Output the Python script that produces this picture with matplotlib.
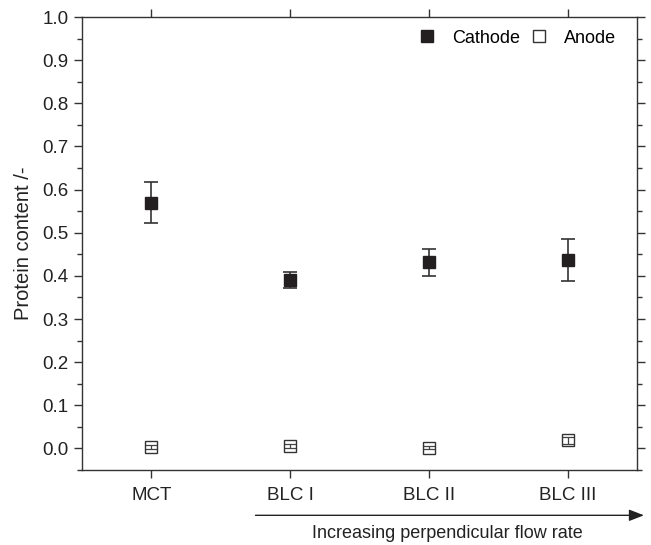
import matplotlib
matplotlib.use("Agg")
import matplotlib.pyplot as plt
from matplotlib.ticker import MultipleLocator

plt.rcParams['font.family'] = ['Liberation Sans', 'DejaVu Sans']

# protein content on electrode surfaces per module
modules = ['MCT', 'BLC I', 'BLC II', 'BLC III']
cathode = [0.570, 0.391, 0.431, 0.437]
cathode_err = [0.047, 0.019, 0.031, 0.048]
anode = [0.003, 0.005, 0.002, 0.019]
anode_err = [0.004, 0.005, 0.004, 0.008]

x = list(range(1, len(modules) + 1))
dark = '#231f20'

fig = plt.figure(figsize=(6.51, 5.45), dpi=100)
ax = fig.add_axes([0.126, 0.1376, 0.8525, 0.8312])

ax.errorbar(x, cathode, yerr=cathode_err, fmt='none', ecolor='#333333',
            elinewidth=1.2, capsize=5, capthick=1.2, zorder=2)
ax.errorbar(x, anode, yerr=anode_err, fmt='none', ecolor='#444444',
            elinewidth=0.9, capsize=4, capthick=0.9, zorder=2)
ax.plot(x, cathode, 's', ms=8.5, mfc=dark, mec=dark, ls='none',
        label='Cathode', zorder=3)
ax.plot(x, anode, 's', ms=8, mfc='none', mec='#333333', mew=1.0,
        ls='none', label='Anode', zorder=3)

ax.set_xlim(0.5, 4.5)
ax.set_ylim(-0.05, 1.0)
ax.set_xticks(x)
ax.set_xticklabels(modules)
ax.yaxis.set_major_locator(MultipleLocator(0.1))
ax.yaxis.set_minor_locator(MultipleLocator(0.05))
ax.yaxis.set_major_formatter(plt.FormatStrFormatter('%.1f'))

for s in ax.spines.values():
    s.set_color('#333333')
    s.set_linewidth(1.0)
ax.tick_params(axis='both', which='both', direction='out', colors='#333333',
               labelcolor='#222222', labelsize=13.5, top=True, right=True)
ax.tick_params(axis='both', which='major', length=6, width=1.0)
ax.tick_params(axis='y', which='minor', length=3.5, width=1.0)
ax.tick_params(axis='x', which='major', pad=6)

ax.set_ylabel('Protein content /-', fontsize=14.5, color='#222222', labelpad=7)

ax.legend(loc='upper right', bbox_to_anchor=(0.985, 1.0), ncol=2,
          frameon=False, fontsize=13, handlelength=0.8, handletextpad=1.0,
          columnspacing=0.6, borderaxespad=0.3)

# arrow indicating increasing perpendicular flow
ax.annotate('', xy=(4.55, -0.155), xytext=(1.75, -0.155),
            xycoords='data', annotation_clip=False,
            arrowprops=dict(arrowstyle='-|>,head_length=0.9,head_width=0.35',
                            color='#222222', lw=1.0, shrinkA=0, shrinkB=0))
fig.text(0.687, 0.022, 'Increasing perpendicular flow rate', ha='center',
         va='center', fontsize=13, color='#222222')

fig.savefig('out.png', dpi=100)
